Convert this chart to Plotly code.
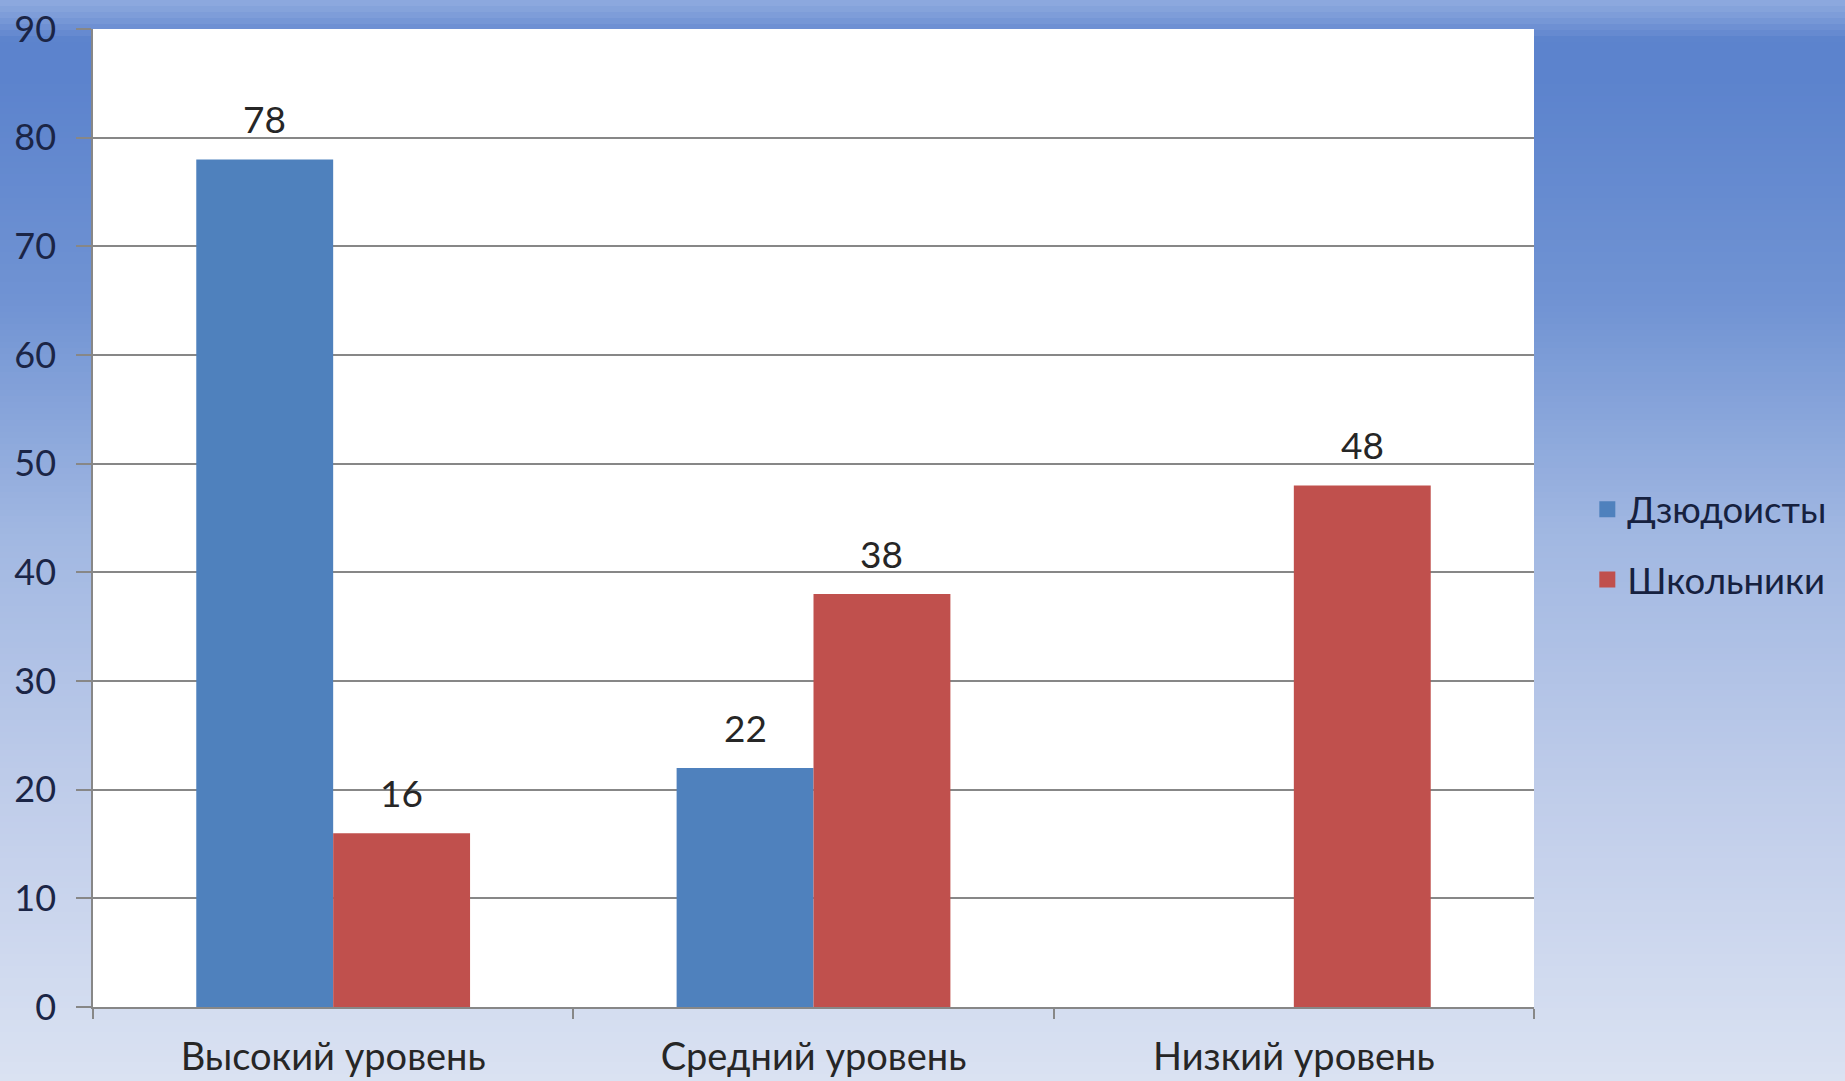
import plotly.graph_objects as go

categories = ["Высокий уровень", "Средний уровень", "Низкий уровень"]
series_names = ["Дзюдоисты", "Школьники"]
judo = [78, 22, 0]
school = [16, 38, 48]
y_tick_vals = [0, 10, 20, 30, 40, 50, 60, 70, 80, 90]

W, H = 1845, 1081
ML, MR, MT, MB = 93, 311, 29, 74
PW = W - ML - MR
PH = H - MT - MB
BARGAP = 0.43
FONT = "Lato, 'Open Sans', sans-serif"

fig = go.Figure()
colors = ["#4f81bd", "#c0504d"]
for name, vals, col, grp in zip(series_names, [judo, school], colors, ["a", "b"]):
    fig.add_trace(go.Bar(
        name=name, x=categories, y=vals, marker=dict(color=col, line=dict(width=0)),
        showlegend=False,
    ))
    # legend-only entry with a larger square swatch
    fig.add_trace(go.Scatter(
        name=name, x=[None], y=[None], mode="markers",
        marker=dict(symbol="square", size=16, color=col),
        legendgroup=grp, showlegend=True, hoverinfo="skip",
    ))

# data labels
half = (1 - BARGAP) / 4
annotations = []
for si, vals in enumerate([judo, school]):
    off = -half if si == 0 else half
    for ci, v in enumerate(vals):
        if v:
            annotations.append(dict(
                x=ci + off, y=v, xref="x", yref="y", text=str(v), showarrow=False,
                yanchor="bottom", yshift=16,
                font=dict(family=FONT, size=37, color="#262626"),
            ))

# gradient background
stops = [
    (0, (143, 171, 223)),
    (12, (130, 160, 218)),
    (40, (92, 131, 205)),
    (80, (92, 131, 205)),
    (300, (112, 147, 211)),
    (540, (162, 184, 226)),
    (800, (192, 205, 234)),
    (1081, (218, 226, 242)),
]

def col_at(y):
    for (y0, c0), (y1, c1) in zip(stops[:-1], stops[1:]):
        if y0 <= y <= y1:
            t = (y - y0) / (y1 - y0)
            return "rgb(%d,%d,%d)" % tuple(round(a + (b - a) * t) for a, b in zip(c0, c1))
    return "rgb(%d,%d,%d)" % stops[-1][1]

shapes = []
step = 6
for ypx in range(0, H, step):
    y0p = (H - MB - (ypx + step + 1)) / PH
    y1p = (H - MB - ypx) / PH
    shapes.append(dict(
        type="rect", xref="paper", yref="paper",
        x0=-ML / PW - 0.01, x1=(W - ML) / PW + 0.01, y0=y0p, y1=y1p,
        fillcolor=col_at(ypx + step / 2), line=dict(width=0), layer="below",
    ))
shapes.append(dict(type="rect", xref="paper", yref="paper", x0=0, x1=1, y0=0, y1=1,
                   fillcolor="white", line=dict(width=0), layer="below"))

fig.update_layout(
    width=W, height=H,
    margin=dict(l=ML, r=MR, t=MT, b=MB, pad=0, autoexpand=False),
    paper_bgcolor="#9fb5e1",
    plot_bgcolor="white",
    barmode="group", bargap=BARGAP, bargroupgap=0,
    font=dict(family=FONT, size=35, color="#262626"),
    shapes=shapes,
    annotations=annotations,
    legend=dict(
        x=1.037, y=0.473, xanchor="left", yanchor="middle",
        font=dict(family=FONT, size=36.5, color="#16213f"),
        bgcolor="rgba(0,0,0,0)", traceorder="grouped", tracegroupgap=20,
        itemsizing="trace",
    ),
    showlegend=True,
    xaxis=dict(
        type="category", showgrid=False, showline=True, linecolor="#878787", linewidth=1.5,
        ticks="outside", tickson="boundaries", ticklen=10, tickcolor="#878787", tickwidth=1.5,
        tickfont=dict(family=FONT, size=38, color="#262626"),
        zeroline=False, automargin=False, ticklabelstandoff=16,
    ),
    yaxis=dict(
        range=[0, 90], tickvals=y_tick_vals, showgrid=True, gridcolor="#878787", gridwidth=1.5,
        showline=True, linecolor="#878787", linewidth=1.5,
        ticks="outside", ticklen=15, tickcolor="#878787", tickwidth=1.5,
        tickfont=dict(family=FONT, size=36, color="#1b2546"),
        zeroline=False, automargin=False, ticklabelstandoff=13,
    ),
)

fig.write_html("out.html")
